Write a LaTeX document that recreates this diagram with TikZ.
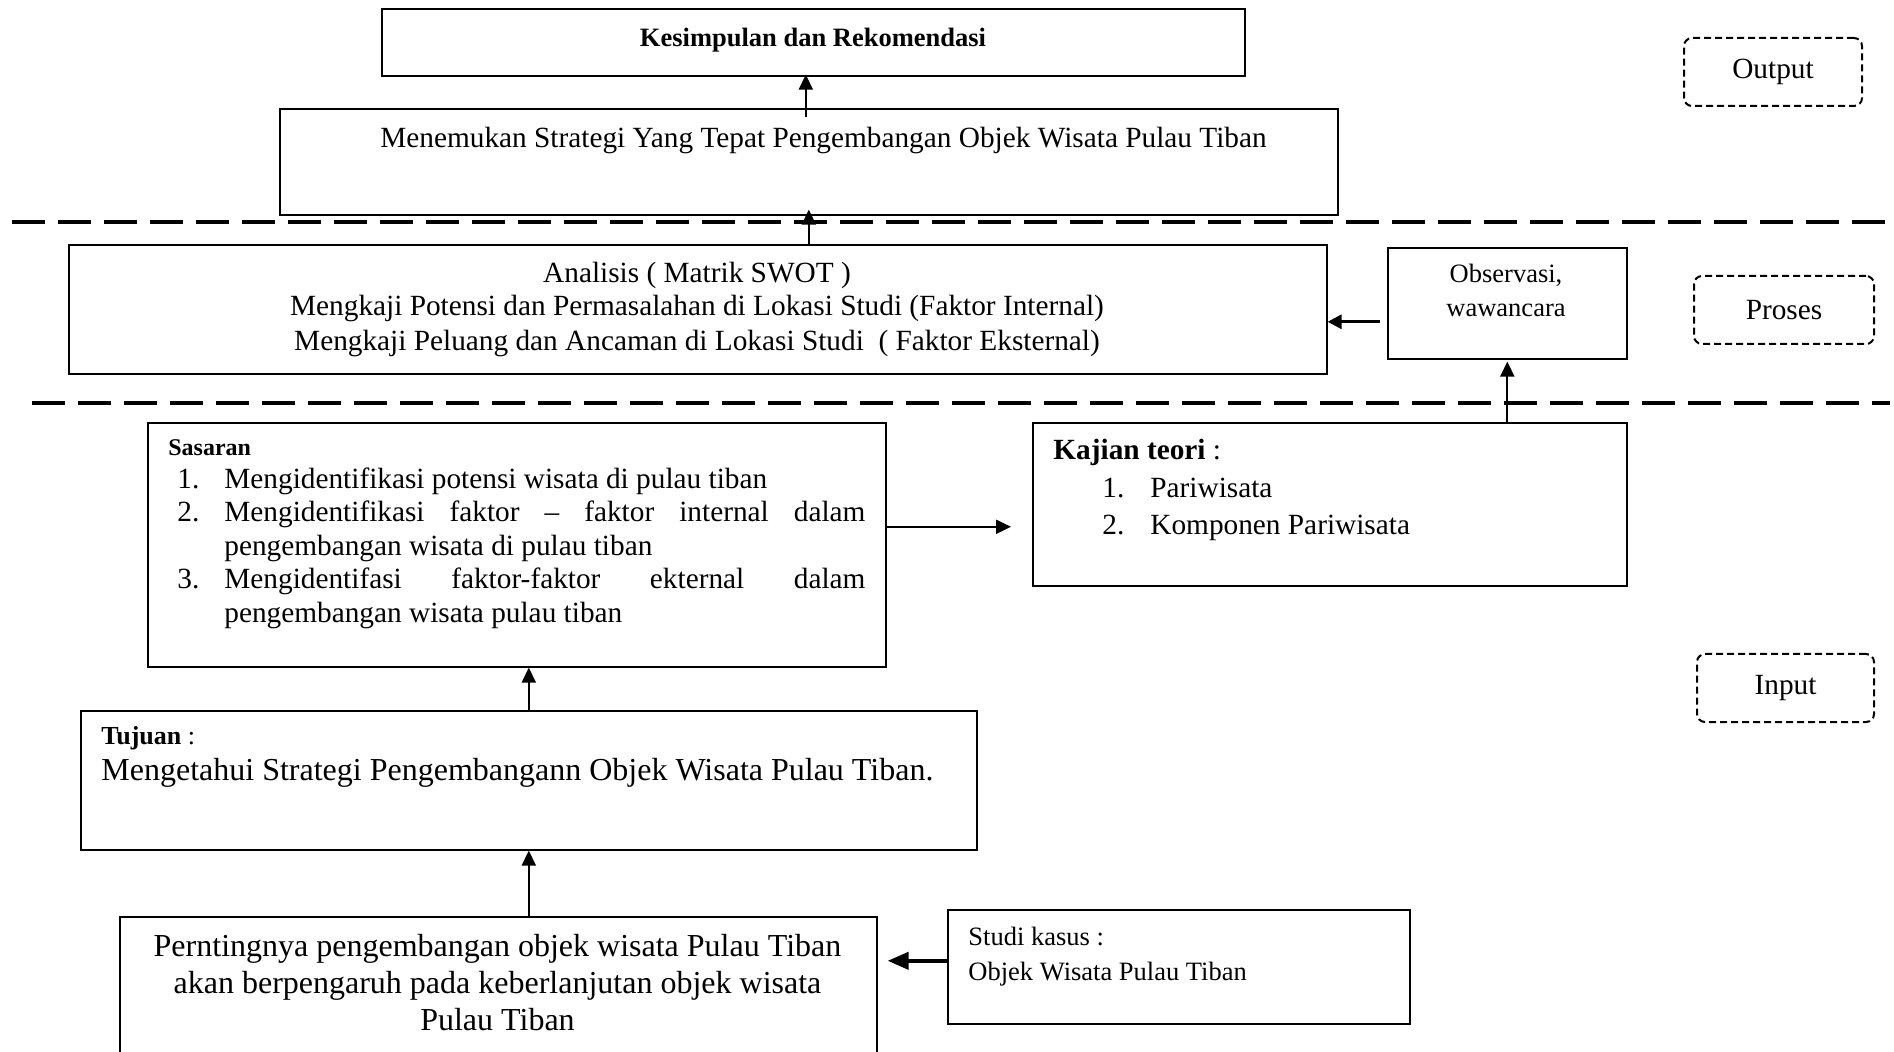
\documentclass[tikz,border=0pt]{standalone}
\usepackage{fontspec}
\setmainfont{Liberation Serif}
\usetikzlibrary{arrows.meta,calc}
\newcommand\fmain{\fontsize{14.65pt}{17pt}\selectfont}
\newcommand\fbig{\fontsize{16pt}{18.75pt}\selectfont}
\newcommand\fsm{\fontsize{13.25pt}{17.5pt}\selectfont}
\newcommand\fxs{\fontsize{12pt}{14pt}\selectfont}
\newcommand\ftj{\fontsize{13pt}{15pt}\selectfont}
\begin{document}
\begin{tikzpicture}[x=0.5pt,y=-0.5pt,
  box/.style={draw, line width=0.8pt, rectangle, inner sep=0pt, anchor=north west},
  tag/.style={draw, line width=1pt, dash pattern=on 3.5pt off 2pt, rounded corners=4pt,
     inner sep=0pt, anchor=north west, font=\fmain},
  sepline/.style={line width=2pt, dash pattern=on 16.5pt off 6.5pt},
  arr/.style={-{Triangle[length=7.5pt,width=7pt]}, line width=1pt},
  arrm/.style={-{Triangle[length=7pt,width=7pt]}, line width=1.5pt},
  arrthick/.style={-{Triangle[length=10.5pt,width=8.5pt]}, line width=2pt},
  tx/.style={inner sep=0pt, anchor=base},
  txl/.style={inner sep=0pt, anchor=base west}]
\useasboundingbox (0,0) rectangle (1894,1052);
\clip (0,0) rectangle (1894,1052);
\fill[white] (0,0) rectangle (1894,1052);

% boxes
\node[box, minimum width=431.5pt, minimum height=33.5pt] (kes) at (381,8) {};
\node[box, minimum width=529pt, minimum height=53pt] (men) at (279,108) {};
\node[box, minimum width=629pt, minimum height=64.5pt] (ana) at (68,244) {};
\node[box, minimum width=119.5pt, minimum height=55.5pt] (obs) at (1387,247) {};
\node[box, minimum width=369pt, minimum height=122pt] (sas) at (147,422) {};
\node[box, minimum width=297pt, minimum height=81.5pt] (kaj) at (1032,422) {};
\node[box, minimum width=448pt, minimum height=69.5pt] (tuj) at (80,710) {};
\node[box, minimum width=378.5pt, minimum height=82pt] (per) at (119,916) {};
\node[box, minimum width=231pt, minimum height=57pt] (stu) at (947,909) {};

% stage tags
\node[tag, minimum width=89pt, minimum height=34pt] (out) at (1683,37) {Output};
\node[tag, minimum width=90pt, minimum height=34pt] (pro) at (1693,275) {Proses};
\node[tag, minimum width=88.5pt, minimum height=34pt] (inp) at (1696,653) {Input};

% separators
\draw[sepline] (12,222) -- (1890,222);
\draw[sepline] (32,403) -- (1890,403);

% texts
\node[tx, font=\fsm\bfseries] (kes-t) at (813,46.5) {Kesimpulan dan Rekomendasi};
\node[tx, font=\fmain] (men-t) at (823.5,148) {Menemukan Strategi Yang Tepat Pengembangan Objek Wisata Pulau Tiban};
\node[tx, font=\fmain] (ana-t1) at (697,283) {Analisis ( Matrik SWOT )};
\node[tx, font=\fmain] (ana-t2) at (697,316) {Mengkaji Potensi dan Permasalahan di Lokasi Studi (Faktor Internal)};
\node[tx, font=\fmain] (ana-t3) at (697,351) {Mengkaji Peluang dan Ancaman di Lokasi Studi\ \ ( Faktor Eksternal)};
\node[tx, font=\fsm] (obs-t1) at (1506,283) {Observasi,};
\node[tx, font=\fsm] (obs-t2) at (1506,317) {wawancara};

\node[txl, font=\fxs\bfseries] (sas-t) at (168,456) {Sasaran};
\node[txl, font=\fmain] (sas-n1) at (177,489) {1.};
\node[txl, font=\fmain] (sas-i1) at (224,489) {Mengidentifikasi potensi wisata di pulau tiban};
\node[txl, font=\fmain] (sas-n2) at (177,522) {2.};
\node[txl, font=\fmain] (sas-i2) at (224,522) {\makebox[320.5pt][s]{Mengidentifikasi faktor – faktor internal dalam}};
\node[txl, font=\fmain] (sas-i2b) at (224,555.5) {pengembangan wisata di pulau tiban};
\node[txl, font=\fmain] (sas-n3) at (177,589) {3.};
\node[txl, font=\fmain] (sas-i3) at (224,589) {\makebox[320.5pt][s]{Mengidentifasi faktor-faktor ekternal dalam}};
\node[txl, font=\fmain] (sas-i3b) at (224,622.5) {pengembangan wisata pulau tiban};

\node[txl, font=\fmain] (kaj-t) at (1053,460) {\textbf{Kajian teori} :};
\node[txl, font=\fmain] (kaj-n1) at (1102,498) {1.};
\node[txl, font=\fmain] (kaj-i1) at (1150,498) {Pariwisata};
\node[txl, font=\fmain] (kaj-n2) at (1102,535) {2.};
\node[txl, font=\fmain] (kaj-i2) at (1150,535) {Komponen Pariwisata};

\node[txl, font=\ftj] (tuj-t) at (101,744) {\textbf{Tujuan} :};
\node[txl, font=\fbig] (tuj-b) at (101,780) {Mengetahui Strategi Pengembangann Objek Wisata Pulau Tiban.};

\node[tx, font=\fbig] (per-t1) at (497.5,956) {Perntingnya pengembangan objek wisata Pulau Tiban};
\node[tx, font=\fbig] (per-t2) at (497.5,993) {akan berpengaruh pada keberlanjutan objek wisata};
\node[tx, font=\fbig] (per-t3) at (497.5,1030) {Pulau Tiban};

\node[txl, font=\fsm] (stu-t1) at (968,945) {Studi kasus :};
\node[txl, font=\fsm] (stu-t2) at (968,980) {Objek Wisata Pulau Tiban};

% connectors
\draw[arr] ($(men.north)+(-3,9)$) -- ($(kes.south)+(-7.5,-2)$);
\draw[arr] (ana.north -| men.north) -- ($(men.south)+(0,-6)$);
\coordinate (o3) at ($(obs.west)+(-7,18.5)$);
\draw[arrm] (o3) -- (ana.east |- o3);
\draw[arr] (kaj.north -| obs.south) -- ($(obs.south)+(0,2)$);
\coordinate (s5) at ($(sas.east)+(0,-18)$);
\draw[arr] (s5) -- ($(kaj.west |- s5)+(-21,0)$);
\draw[arr] (tuj.north) -- (tuj.north |- sas.south);
\draw[arr] (per.north -| tuj.south) -- (tuj.south);
\coordinate (s8) at ($(stu.west)+(0,-6)$);
\draw[arrthick] (s8) -- ($(per.east |- s8)+(10,0)$);
\end{tikzpicture}
\end{document}
